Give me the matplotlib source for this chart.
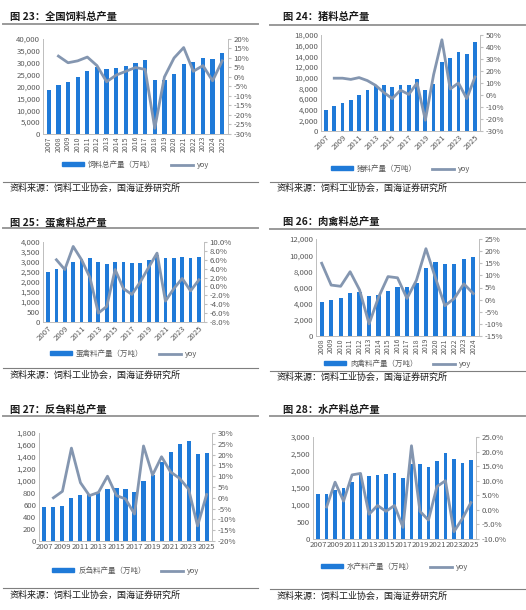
import matplotlib
matplotlib.use("Agg")
import matplotlib.pyplot as plt
from matplotlib.lines import Line2D
from matplotlib.patches import Patch
from matplotlib.ticker import FuncFormatter, MultipleLocator

plt.rcParams['font.family'] = ['Noto Sans CJK SC', 'DejaVu Sans']

# ---------------- data ----------------
years_23 = list(range(2007, 2026))
feed_total = [18500, 20500, 22000, 24000, 26500, 28000, 27400, 27600, 28500, 29800,
              31000, 22800, 22900, 25200, 29300, 30200, 32000, 31500, 34300]
feed_total_yoy = [None, 11, 7.5, 8.5, 10.5, 6, -2.5, 1, 3, 5, 4, -27, 0, 10, 15.5, 3, 6, -2, 8.5]

years_24 = list(range(2007, 2026))
pig_feed = [4000, 4600, 5200, 5900, 6800, 7700, 8400, 8600, 8300, 8700,
            8700, 9700, 7600, 8900, 13000, 13600, 14900, 14400, 16600]
pig_feed_yoy = [None, 14, 14, 13, 14.5, 12, 8, 2, -3, 4, 0.5, 10, -21, 17, 46, 5, 10, -3, 15]

years_25 = list(range(2007, 2026))
egg_feed = [2500, 2650, 2760, 3000, 3150, 3200, 3020, 2900, 3000, 2980,
            2930, 2970, 3100, 3330, 3220, 3200, 3260, 3220, 3260]
egg_feed_yoy = [None, 6, 3.8, 9, 6, 2, -6, -4.5, 3.8, -0.5, -1.8, 1, 4.3, 7.5, -3.3, -0.5, 1.8, -1, 1.5]

years_26 = list(range(2008, 2025))
meat_feed = [4200, 4500, 4750, 5300, 5500, 4950, 5050, 5550, 6050, 6050,
             6550, 8450, 9200, 8900, 8950, 9550, 9750]
meat_feed_yoy = [15, 6, 5.5, 11.5, 4, -10, 1, 9.5, 9, 0.5, 8, 21, 9, -2.5, 0.5, 6.5, 2.5]

years_27 = list(range(2007, 2026))
rumi_feed = [570, 570, 590, 720, 770, 780, 800, 870, 880, 870,
             810, 1000, 1100, 1320, 1480, 1610, 1660, 1450, 1470]
rumi_feed_yoy = [None, 0, 3, 23, 7, 1, 2.5, 10, 1, -0.5, -7.5, 24, 10.5, 19, 12, 9, 4, -13, 1.5]

years_28 = list(range(2007, 2026))
aqua_feed = [1320, 1330, 1450, 1500, 1680, 1870, 1860, 1890, 1900, 1930,
             1800, 2200, 2200, 2120, 2290, 2530, 2340, 2250, 2320]
aqua_feed_yoy = [None, 1, 9.5, 3, 12, 12.5, -1.5, 1.5, -0.5, 1.5, -6, 22, -0.5, -3.5, 8, 10, -7.5, -3, 2.5]

titles = ["图 23：全国饲料总产量", "图 24：猪料总产量", "图 25：蛋禽料总产量",
          "图 26：肉禽料总产量", "图 27：反刍料总产量", "图 28：水产料总产量"]
bar_labels = ["饲料总产量（万吨）", "猪料产量（万吨）", "蛋禽料产量（万吨）",
              "肉禽料产量（万吨）", "反刍料产量（万吨）", "水产料产量（万吨）"]
source = "资料来源：饲料工业协会，国海证券研究所"

W, H = 526, 610
BAR = '#1f7ad8'
LINE = '#8496b0'
TXT = '#595959'
SP = '#bfbfbf'

fig = plt.figure(figsize=(W / 100, H / 100), dpi=100)


def frect(x0, y0, x1, y1):
    return [x0 / W, 1 - y1 / H, (x1 - x0) / W, (y1 - y0) / H]


def hline(x0, x1, y, color, lw):
    fig.add_artist(Line2D([x0 / W, x1 / W], [1 - y / H, 1 - y / H],
                          color=color, lw=lw, transform=fig.transFigure))


def panel(rect, years, bars, yoy, ylim, ystep, rlim, rstep, rfmt, xrot, xevery,
          title, tpos, trule, blabel, legy, brule, srcy, xl):
    ax = fig.add_axes(frect(*rect))
    x = list(range(len(years)))
    ax.bar(x, bars, width=0.45, color=BAR, zorder=2)
    ax.set_ylim(*ylim)
    ax.yaxis.set_major_locator(MultipleLocator(ystep))
    ax.yaxis.set_major_formatter(FuncFormatter(lambda v, p: f"{int(v):,}"))
    ax.set_xlim(-0.6, len(years) - 0.4)
    ax.set_xticks(x[::xevery])
    xfs = 5.0 if xrot == 90 else 5.6
    ax.set_xticklabels([str(y) for y in years[::xevery]], rotation=xrot,
                       ha='right' if xrot == 45 else 'center',
                       rotation_mode='anchor' if xrot == 45 else 'default',
                       fontsize=xfs)
    ax.tick_params(axis='y', labelsize=5.6, colors=TXT, length=0, pad=2)
    ax.tick_params(axis='x', colors=TXT, length=0, pad=1.5)
    ax.spines['top'].set_visible(False)
    for s in ['left', 'bottom', 'right']:
        ax.spines[s].set_color(SP)
        ax.spines[s].set_linewidth(0.7)
    ax2 = ax.twinx()
    xs = [xi for xi, v in zip(x, yoy) if v is not None]
    vs = [v for v in yoy if v is not None]
    ax2.plot(xs, vs, color=LINE, lw=2.0, zorder=3)
    ax2.set_ylim(*rlim)
    ax2.yaxis.set_major_locator(MultipleLocator(rstep))
    ax2.yaxis.set_major_formatter(FuncFormatter(lambda v, p: rfmt % v + '%'))
    ax2.tick_params(axis='y', labelsize=5.6, colors=TXT, length=2, pad=2)
    ax2.tick_params(axis='y', color=SP)
    ax2.spines['top'].set_visible(False)
    for s in ['left', 'bottom', 'right']:
        ax2.spines[s].set_color(SP)
        ax2.spines[s].set_linewidth(0.7)
    # title & rules
    fig.text(tpos[0] / W, 1 - tpos[1] / H, title, fontsize=7.4, fontweight='bold',
             color='#1a1a1a', va='center', ha='left')
    hline(xl[0], xl[1], trule, '#9a9a9a', 1.4)
    hline(xl[0], xl[1], brule, '#7f7f7f', 0.8)
    fig.text((xl[0] + 7) / W, 1 - srcy / H, source, fontsize=6.5, color='#1a1a1a',
             va='center', ha='left')
    handles = [Patch(color=BAR), Line2D([], [], color=LINE, lw=2)]
    cx = (rect[0] + rect[2]) / 2
    fig.legend(handles, [blabel, 'yoy'], loc='center', ncol=2,
               bbox_to_anchor=(cx / W, 1 - legy / H), frameon=False,
               fontsize=5.4, labelcolor=TXT, handlelength=3.0, handleheight=0.45,
               columnspacing=2.0, handletextpad=0.5, borderpad=0.1)
    return ax


panel((43, 39, 228, 134), years_23, feed_total, feed_total_yoy, (0, 40000), 5000,
      (-30, 20), 5, '%d', 90, 1, titles[0], (10, 17), 24, bar_labels[0], 165, 182, 188, (3, 258))
panel((321, 35, 480, 131), years_24, pig_feed, pig_feed_yoy, (0, 18000), 2000,
      (-30, 50), 10, '%d', 45, 2, titles[1], (283, 17), 25, bar_labels[1], 169, 182, 188, (270, 525))
panel((43, 242, 204, 322), years_25, egg_feed, egg_feed_yoy, (0, 4000), 500,
      (-8, 10), 2, '%.1f', 45, 2, titles[2], (10, 222), 228, bar_labels[2], 354, 368, 375, (3, 258))
panel((316, 239, 479, 336), years_26, meat_feed, meat_feed_yoy, (0, 12000), 2000,
      (-15, 25), 5, '%d', 90, 1, titles[3], (283, 222), 229, bar_labels[3], 364, 371, 377, (270, 525))
panel((39, 433, 212, 541), years_27, rumi_feed, rumi_feed_yoy, (0, 1800), 200,
      (-20, 30), 5, '%d', 0, 2, titles[4], (10, 410), 416, bar_labels[4], 571, 588, 595, (3, 258))
panel((313, 437, 476, 539), years_28, aqua_feed, aqua_feed_yoy, (0, 3000), 500,
      (-10, 25), 5, '%.1f', 0, 2, titles[5], (283, 410), 416, bar_labels[5], 567, 589, 596, (270, 525))

fig.savefig("out.png", dpi=100, facecolor='white')
